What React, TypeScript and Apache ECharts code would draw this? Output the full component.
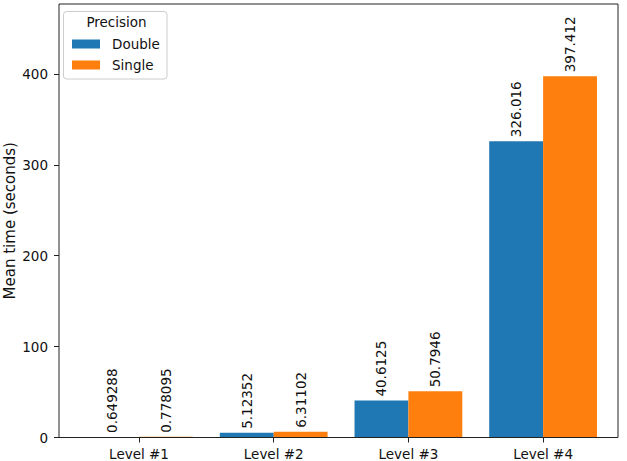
import React, { useEffect, useRef } from "react";
import * as echarts from "echarts";

const categories = ["Level #1", "Level #2", "Level #3", "Level #4"];
const doubleValues = [0.649288, 5.12352, 40.6125, 326.016];
const singleValues = [0.778095, 6.31102, 50.7946, 397.412];
const yTicks = [0, 100, 200, 300, 400];
const seriesNames = ["Double", "Single"];
const legendTitle = "Precision";
const yAxisName = "Mean time (seconds)";

const FONT = "DejaVu Sans";
const INK = "#111";
const SPINE = "#222";

export default function App() {
  const ref = useRef<HTMLDivElement>(null);
  useEffect(() => {
    if (!ref.current) return;
    const chart = echarts.init(ref.current, null, { renderer: "svg" });
    const labelCfg = {
      show: true,
      position: "top",
      rotate: 90,
      align: "left",
      verticalAlign: "middle",
      distance: 4,
      fontFamily: FONT,
      fontSize: 13.5,
      color: INK,
      formatter: (p: any) => String(p.value),
    };
    const yMax = 476.9;
    chart.setOption({
      animation: false,
      textStyle: { fontFamily: FONT },
      grid: [
        // plot area for bars (category bands)
        {
          left: 71.65,
          right: 16.55,
          top: 4,
          bottom: 23.5,
          containLabel: false,
          outerBoundsMode: "none",
        },
        // frame (spines)
        {
          left: 59,
          right: 9,
          top: 4,
          bottom: 23.5,
          containLabel: false,
          outerBoundsMode: "none",
          show: true,
          borderColor: SPINE,
          borderWidth: 1,
          backgroundColor: "transparent",
          z: 5,
        },
      ],
      xAxis: [
        {
          type: "category",
          gridIndex: 0,
          data: categories,
          boundaryGap: true,
          axisLine: { show: false },
          axisTick: { show: true, alignWithLabel: true, length: 5, lineStyle: { color: SPINE } },
          axisLabel: { fontFamily: FONT, fontSize: 13.5, color: INK, margin: 9 },
          splitLine: { show: false },
        },
        { type: "value", gridIndex: 1, show: false, min: 0, max: 1 },
      ],
      yAxis: [
        {
          type: "value",
          gridIndex: 0,
          min: 0,
          max: yMax,
          offset: 12.65,
          name: yAxisName,
          nameLocation: "middle",
          nameGap: 42,
          nameMoveOverlap: false,
          nameTextStyle: { fontFamily: FONT, fontSize: 15, color: INK },
          splitLine: { show: false },
          axisLine: { show: false },
          axisTick: { show: true, length: 5, customValues: yTicks, lineStyle: { color: SPINE } },
          axisLabel: {
            customValues: yTicks,
            fontFamily: FONT,
            fontSize: 13.5,
            color: INK,
            margin: 11,
          },
        },
        { type: "value", gridIndex: 1, show: false, min: 0, max: 1 },
      ],
      legend: {
        data: seriesNames,
        orient: "vertical",
        left: 72,
        top: 37,
        icon: "rect",
        itemWidth: 28,
        itemHeight: 9,
        itemGap: 7,
        padding: 0,
        z: 10,
        textStyle: {
          fontFamily: FONT,
          fontSize: 13.5,
          color: INK,
          lineHeight: 14,
          padding: [0, 0, 0, 7],
        },
      },
      graphic: [
        {
          type: "rect",
          z: 9,
          shape: { x: 63.5, y: 11.5, width: 103.5, height: 67.5, r: 3 },
          style: { fill: "rgba(255,255,255,0.8)", stroke: "#cccccc", lineWidth: 1 },
        },
        {
          type: "text",
          z: 10,
          x: 116.5,
          y: 22,
          style: {
            text: legendTitle,
            fontFamily: FONT,
            fontSize: 13.5,
            fill: INK,
            align: "center",
            verticalAlign: "middle",
          },
        },
      ],
      series: [
        {
          name: seriesNames[0],
          type: "bar",
          xAxisIndex: 0,
          yAxisIndex: 0,
          data: doubleValues,
          barWidth: "40%",
          barGap: "0%",
          itemStyle: { color: "#1f77b4" },
          label: labelCfg,
        },
        {
          name: seriesNames[1],
          type: "bar",
          xAxisIndex: 0,
          yAxisIndex: 0,
          data: singleValues,
          barWidth: "40%",
          barGap: "0%",
          itemStyle: { color: "#ff7f0e" },
          label: labelCfg,
        },
      ],
    });
    return () => chart.dispose();
  }, []);
  return (
    <div
      ref={ref}
      style={{ position: "absolute", left: 0, top: 0, width: 627, height: 461, background: "#fff" }}
    />
  );
}
